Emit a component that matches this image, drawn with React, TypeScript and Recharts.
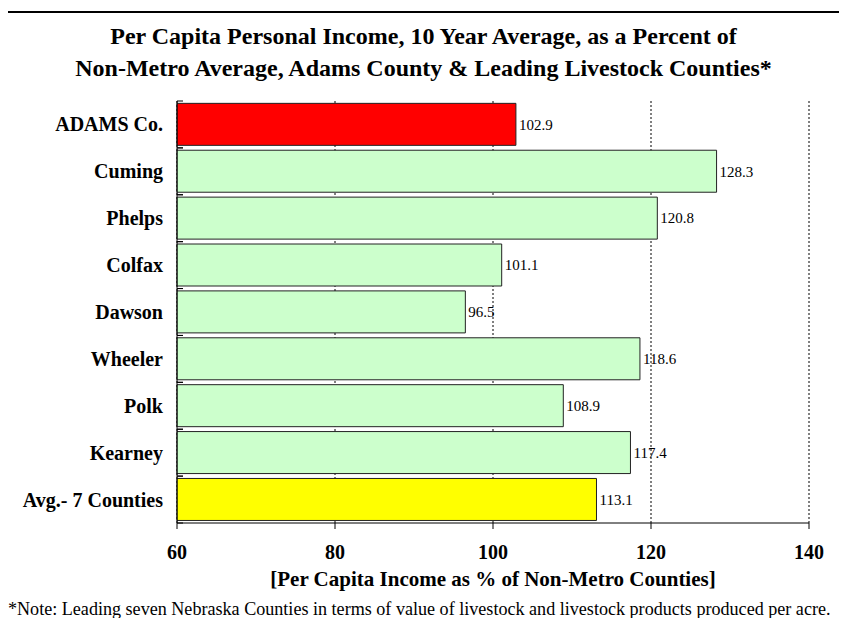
import { Bar, BarChart, CartesianGrid, Cell, LabelList, XAxis, YAxis } from "recharts";

const counties = [
  "ADAMS Co.",
  "Cuming",
  "Phelps",
  "Colfax",
  "Dawson",
  "Wheeler",
  "Polk",
  "Kearney",
  "Avg.- 7 Counties",
];
const incomePct = [102.9, 128.3, 120.8, 101.1, 96.5, 118.6, 108.9, 117.4, 113.1];
const barColors = [
  "#ff0000",
  "#ccffcc",
  "#ccffcc",
  "#ccffcc",
  "#ccffcc",
  "#ccffcc",
  "#ccffcc",
  "#ccffcc",
  "#ffff00",
];
const xTicks = [60, 80, 100, 120, 140];

const FONT = '"Liberation Serif", "Times New Roman", serif';
const PLOT_TOP = 101;
const PLOT_BOTTOM = 523;
const BAND = (PLOT_BOTTOM - PLOT_TOP) / counties.length;

function CountyTick(props: any) {
  const { x, y, payload } = props;
  return (
    <g>
      <line x1={x + 8} x2={x + 14} y1={y - BAND / 2} y2={y - BAND / 2} stroke="#000" />
      <line x1={x + 8} x2={x + 14} y1={y + BAND / 2} y2={y + BAND / 2} stroke="#000" />
      <text
        x={x - 6}
        y={y}
        dy="0.35em"
        textAnchor="end"
        fontFamily={FONT}
        fontWeight="bold"
        fontSize={20}
        fill="#000"
      >
        {payload.value}
      </text>
    </g>
  );
}

export default function App() {
  const data = counties.map((name, i) => ({ name, value: incomePct[i] }));

  return (
    <div
      style={{
        position: "relative",
        width: 847,
        height: 626,
        margin: -8,
        overflow: "hidden",
        background: "#fff",
        fontFamily: FONT,
      }}
    >
      <div
        style={{
          position: "absolute",
          left: 6,
          top: 11,
          width: 850,
          height: 640,
          border: "2px solid #000",
        }}
      />
      <div
        style={{
          position: "absolute",
          left: 0,
          top: 20,
          width: 847,
          textAlign: "center",
          fontWeight: "bold",
          fontSize: 24,
          lineHeight: "32px",
        }}
      >
        Per Capita Personal Income, 10 Year Average, as a Percent of
        <br />
        Non-Metro Average, Adams County &amp; Leading Livestock Counties*
      </div>
      <div style={{ position: "absolute", left: 0, top: 0 }}>
        <BarChart
          width={847}
          height={626}
          data={data}
          layout="vertical"
          barCategoryGap="5%"
          margin={{ top: PLOT_TOP, right: 38, bottom: 626 - PLOT_BOTTOM - 30, left: 7 }}
        >
          <CartesianGrid
            horizontal={false}
            stroke="#000"
            strokeDasharray="2 2"
          />
          <XAxis
            type="number"
            domain={[60, 140]}
            ticks={xTicks}
            height={30}
            axisLine={{ stroke: "#000" }}
            tickLine={{ stroke: "#000" }}
            tickSize={6}
            tickMargin={16}
            tick={{ fill: "#000", fontSize: 20, fontWeight: "bold", fontFamily: FONT }}
          />
          <YAxis
            type="category"
            dataKey="name"
            width={170}
            axisLine={{ stroke: "#000" }}
            tickLine={false}
            tick={<CountyTick />}
          />
          <Bar
            dataKey="value"
            stroke="#222"
            strokeWidth={1}
            isAnimationActive={false}
          >
            {data.map((d, i) => (
              <Cell key={d.name} fill={barColors[i]} />
            ))}
            <LabelList
              dataKey="value"
              position="right"
              offset={3}
              formatter={(v: any) => Number(v).toFixed(1)}
              style={{ fill: "#000", fontSize: 15, fontFamily: FONT }}
            />
          </Bar>
        </BarChart>
      </div>
      <div
        style={{
          position: "absolute",
          left: 177,
          width: 632,
          top: 567,
          textAlign: "center",
          fontWeight: "bold",
          fontSize: 21,
        }}
      >
        [Per Capita Income as % of Non-Metro Counties]
      </div>
      <div
        style={{
          position: "absolute",
          left: 8,
          top: 599,
          fontSize: 18.1,
          whiteSpace: "nowrap",
        }}
      >
        *Note: Leading seven Nebraska Counties in terms of value of livestock and livestock products produced per acre.
      </div>
    </div>
  );
}
